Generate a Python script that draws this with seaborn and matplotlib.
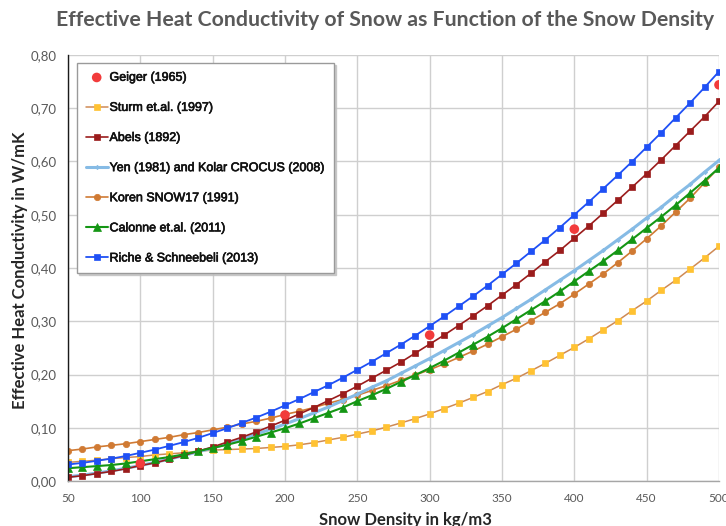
import matplotlib
matplotlib.use("Agg")
import matplotlib.pyplot as plt
import matplotlib.patheffects as pe
from matplotlib.ticker import FuncFormatter, MultipleLocator
import seaborn as sns
import pandas as pd

# Snow density (kg/m3) sampled every 10 kg/m3
density = list(range(50, 501, 10))

sturm_1997 = [0.035, 0.037, 0.039, 0.042, 0.044, 0.046, 0.049, 0.051, 0.053, 0.056,
              0.058, 0.059, 0.060, 0.061, 0.063, 0.065, 0.068, 0.072, 0.077, 0.082,
              0.088, 0.094, 0.101, 0.109, 0.117, 0.126, 0.136, 0.146, 0.157, 0.168,
              0.181, 0.193, 0.207, 0.221, 0.236, 0.251, 0.267, 0.284, 0.301, 0.320,
              0.338, 0.358, 0.377, 0.398, 0.419, 0.441]
abels_1892 = [0.007, 0.010, 0.014, 0.018, 0.023, 0.029, 0.034, 0.041, 0.048, 0.056,
              0.064, 0.073, 0.082, 0.092, 0.103, 0.114, 0.126, 0.138, 0.151, 0.164,
              0.178, 0.193, 0.208, 0.223, 0.240, 0.257, 0.274, 0.292, 0.310, 0.329,
              0.349, 0.369, 0.390, 0.412, 0.433, 0.456, 0.479, 0.503, 0.527, 0.552,
              0.577, 0.603, 0.630, 0.657, 0.684, 0.713]
yen_kolar = [0.008, 0.011, 0.015, 0.019, 0.024, 0.029, 0.035, 0.041, 0.048, 0.055,
             0.062, 0.070, 0.079, 0.088, 0.097, 0.107, 0.117, 0.128, 0.139, 0.151,
             0.163, 0.176, 0.188, 0.202, 0.216, 0.230, 0.245, 0.260, 0.275, 0.291,
             0.307, 0.324, 0.341, 0.359, 0.377, 0.395, 0.414, 0.433, 0.453, 0.473,
             0.494, 0.514, 0.536, 0.557, 0.580, 0.602]
koren_snow17 = [0.057, 0.060, 0.064, 0.067, 0.070, 0.074, 0.078, 0.082, 0.087, 0.091,
                0.096, 0.101, 0.107, 0.112, 0.118, 0.125, 0.131, 0.138, 0.146, 0.153,
                0.161, 0.170, 0.179, 0.189, 0.199, 0.209, 0.220, 0.232, 0.244, 0.257,
                0.271, 0.285, 0.301, 0.317, 0.333, 0.351, 0.370, 0.389, 0.410, 0.432,
                0.455, 0.479, 0.505, 0.531, 0.560, 0.589]
calonne_2011 = [0.024, 0.026, 0.028, 0.030, 0.033, 0.037, 0.041, 0.045, 0.050, 0.056,
                0.062, 0.068, 0.075, 0.083, 0.091, 0.099, 0.108, 0.118, 0.128, 0.138,
                0.150, 0.161, 0.173, 0.186, 0.199, 0.212, 0.226, 0.241, 0.256, 0.271,
                0.287, 0.304, 0.321, 0.338, 0.356, 0.375, 0.394, 0.413, 0.433, 0.454,
                0.475, 0.496, 0.518, 0.541, 0.564, 0.588]
riche_2013 = [0.031, 0.034, 0.038, 0.042, 0.047, 0.053, 0.059, 0.066, 0.073, 0.081,
              0.090, 0.099, 0.109, 0.119, 0.130, 0.142, 0.154, 0.167, 0.180, 0.194,
              0.209, 0.224, 0.240, 0.256, 0.273, 0.291, 0.309, 0.328, 0.347, 0.367,
              0.388, 0.409, 0.431, 0.453, 0.476, 0.500, 0.524, 0.549, 0.574, 0.600,
              0.627, 0.654, 0.682, 0.710, 0.739, 0.769]

# Geiger (1965) point measurements
geiger_density = [100, 200, 300, 400, 500]
geiger_values = [0.033, 0.124, 0.274, 0.473, 0.744]

title = "Effective Heat Conductivity of Snow as Function of the Snow Density"
xlabel = "Snow Density in kg/m3"
ylabel = "Effective Heat Conductivity in W/mK"

sns.set_theme(style="white")
plt.rcParams["font.family"] = ["Lato", "DejaVu Sans"]

fig = plt.figure(figsize=(7.26, 5.26), dpi=100)
ax = fig.add_axes([68 / 726, 45 / 526, (719 - 68) / 726, (481 - 55) / 526])

curves = pd.DataFrame({
    "density": density,
    "sturm": sturm_1997,
    "abels": abels_1892,
    "yen": yen_kolar,
    "koren": koren_snow17,
    "calonne": calonne_2011,
    "riche": riche_2013,
})

styles = [
    # column, label, line colour, marker, marker face, marker size, line width
    ("sturm", "Sturm et.al. (1997)", "#cf8a55", "s", "#ffc233", 4.3, 1.1),
    ("koren", "Koren SNOW17 (1991)", "#d07a33", "o", "#d07a33", 4.6, 1.2),
    ("yen", "Yen (1981) and Kolar CROCUS (2008)", "#86bbe5", "D", "#86bbe5", 2.2, 2.2),
    ("abels", "Abels (1892)", "#9b1c1c", "s", "#9b1c1c", 4.3, 1.2),
    ("calonne", "Calonne et.al. (2011)", "#149614", "^", "#149614", 6.3, 1.5),
    ("riche", "Riche & Schneebeli (2013)", "#1f50f5", "s", "#1f50f5", 4.6, 1.3),
]

for col, label, lc, mk, mf, ms, lw in styles:
    sns.lineplot(data=curves, x="density", y=col, ax=ax, color=lc, lw=lw,
                 marker=mk, markersize=ms, markerfacecolor=mf,
                 markeredgecolor=mf, markeredgewidth=0.5, label=label)

sns.scatterplot(x=geiger_density, y=geiger_values, ax=ax, color="#f23b3b",
                s=48, edgecolor="none", label="Geiger (1965)", zorder=5)

ax.set_xlim(50, 500)
ax.set_ylim(0, 0.8)
ax.xaxis.set_major_locator(MultipleLocator(50))
ax.yaxis.set_major_locator(MultipleLocator(0.1))
ax.yaxis.set_major_formatter(FuncFormatter(lambda v, p: f"{v:.2f}".replace(".", ",")))
ax.grid(True, color="#cfcfcf", lw=1)
ax.set_axisbelow(True)

for side in ("top", "right"):
    ax.spines[side].set_visible(False)
ax.spines["left"].set_color("#1a1a1a")
ax.spines["left"].set_linewidth(1.0)
ax.spines["bottom"].set_color("#a6a6a6")
ax.spines["bottom"].set_linewidth(1.0)

ax.tick_params(axis="y", direction="inout", length=8, width=1, color="#1a1a1a",
               labelsize=9.5, labelcolor="#595959", pad=4)
ax.tick_params(axis="x", direction="out", length=4, width=1, color="#a6a6a6",
               labelsize=8.5, labelcolor="#595959", pad=5)
ax.set_xlabel("")
ax.set_ylabel("")

fig.text(385 / 726, 1 - 20 / 526, title, ha="center", va="center",
         fontsize=15.3, fontweight="bold", color="#595959")
fig.text(20 / 726, 1 - 270 / 526, ylabel, ha="center", va="center", rotation=90,
         fontsize=12, fontweight="bold", color="#262626")
fig.text(405 / 726, 1 - 520 / 526, xlabel, ha="center", va="center",
         fontsize=12, fontweight="bold", color="#262626")

h, l = ax.get_legend_handles_labels()
lookup = dict(zip(l, h))
order = ["Geiger (1965)", "Sturm et.al. (1997)", "Abels (1892)",
         "Yen (1981) and Kolar CROCUS (2008)", "Koren SNOW17 (1991)",
         "Calonne et.al. (2011)", "Riche & Schneebeli (2013)"]
leg = ax.legend([lookup[k] for k in order], order, loc="upper left",
                bbox_to_anchor=(77 / 726, 1 - 63 / 526), bbox_transform=fig.transFigure,
                borderaxespad=0, frameon=True, fancybox=False, framealpha=1,
                edgecolor="#9a9a9a", prop={"family": ["Liberation Sans"], "size": 9.0},
                labelspacing=1.45, handlelength=1.75, handletextpad=0.15, borderpad=0.7,
                shadow={"ox": 1.5, "oy": -1.5, "color": "#c0c0c0", "alpha": 0.8})
leg.get_frame().set_linewidth(1.0)
for t in leg.get_texts():
    t.set_color("#111111")
    t.set_path_effects([pe.withStroke(linewidth=0.45, foreground="#111111")])

fig.savefig("out.png", dpi=100)
